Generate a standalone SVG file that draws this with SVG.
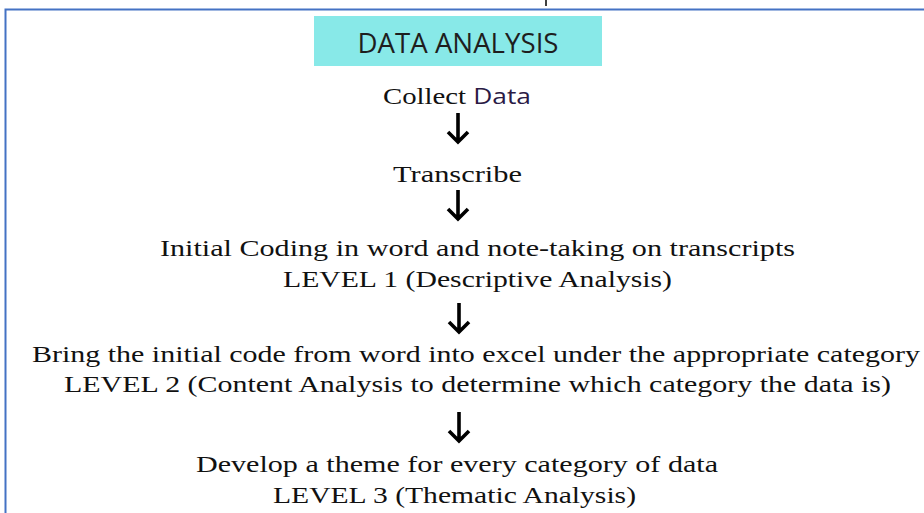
<svg xmlns="http://www.w3.org/2000/svg" width="924" height="513" viewBox="0 0 924 513">
<style>
.t{font-family:"Liberation Serif","Times New Roman",serif;font-size:24px;fill:#111;}
.s{font-family:"Open Sans","Noto Sans",sans-serif;}
.arr{fill:none;stroke:#000;stroke-width:3.6;stroke-linecap:butt;stroke-linejoin:miter;}
</style>
<rect width="924" height="513" fill="#fff"/>
<g id="frame">
<line x1="546" y1="0" x2="546" y2="6" stroke="#000" stroke-width="1.5"/>
<path d="M5.5 513 V9.5 H924" fill="none" stroke="#4472C4" stroke-width="2"/>
</g>
<g id="title">
<rect x="314" y="16" width="288" height="50" fill="#88E9E8"/>
<text x="458" y="53" text-anchor="middle" class="s" font-size="27" fill="#1e1e1e" textLength="201" lengthAdjust="spacingAndGlyphs">DATA ANALYSIS</text>
</g>
<g id="collect">
<text x="383" y="104" class="t" textLength="148" lengthAdjust="spacingAndGlyphs">Collect <tspan class="s" fill="#2b1a45" font-size="22">Data</tspan></text>
</g>
<g id="transcribe">
<text x="393" y="182" class="t" textLength="129" lengthAdjust="spacingAndGlyphs">Transcribe</text>
</g>
<g id="level1">
<text x="160" y="256" class="t" textLength="635" lengthAdjust="spacingAndGlyphs">Initial Coding in word and note-taking on transcripts</text>
<text x="283" y="287" class="t" textLength="389" lengthAdjust="spacingAndGlyphs">LEVEL 1 (Descriptive Analysis)</text>
</g>
<g id="level2">
<text x="32" y="362" class="t" textLength="888" lengthAdjust="spacingAndGlyphs">Bring the initial code from word into excel under the appropriate category</text>
<text x="64" y="392" class="t" textLength="827" lengthAdjust="spacingAndGlyphs">LEVEL 2 (Content Analysis to determine which category the data is)</text>
</g>
<g id="level3">
<text x="196" y="472" class="t" textLength="522" lengthAdjust="spacingAndGlyphs">Develop a theme for every category of data</text>
<text x="273" y="503" class="t" textLength="363" lengthAdjust="spacingAndGlyphs">LEVEL 3 (Thematic Analysis)</text>
</g>
<g id="connectors">
<path class="arr" d="M458 113 V142 M448 132 L458 142 L468 132"/>
<path class="arr" d="M458 190 V219 M448 209 L458 219 L468 209"/>
<path class="arr" d="M459 303 V332 M449 322 L459 332 L469 322"/>
<path class="arr" d="M459 412 V441 M449 431 L459 441 L469 431"/>
</g>
</svg>
